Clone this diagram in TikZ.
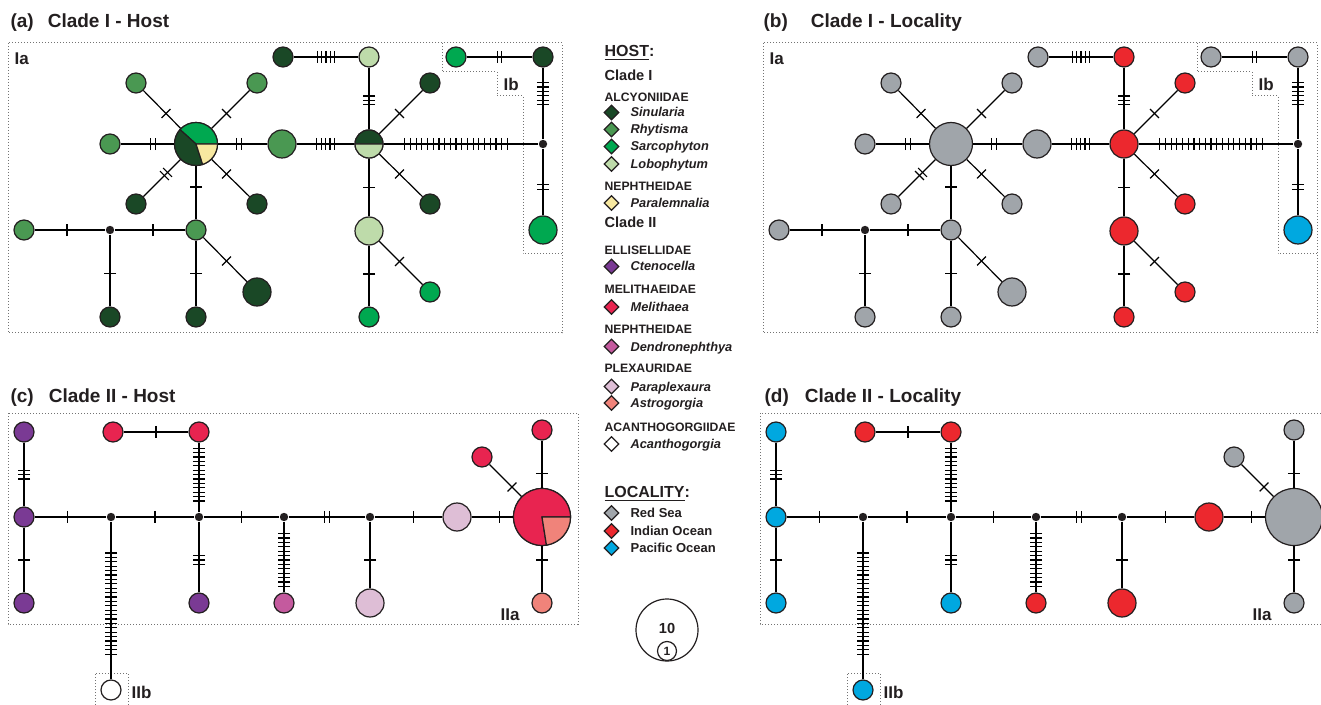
\documentclass[tikz,border=0pt]{standalone}
\usepackage{fontspec}
\setmainfont{Liberation Sans}
\usetikzlibrary{calc,shapes.geometric}
\definecolor{ink}{RGB}{35,31,32}
\definecolor{sin}{RGB}{26,72,38}
\definecolor{rhy}{RGB}{74,152,82}
\definecolor{sar}{RGB}{0,168,80}
\definecolor{lob}{RGB}{190,219,170}
\definecolor{pln}{RGB}{247,232,160}
\definecolor{cte}{RGB}{122,58,148}
\definecolor{mel}{RGB}{232,36,80}
\definecolor{den}{RGB}{196,90,158}
\definecolor{ppx}{RGB}{222,190,214}
\definecolor{ast}{RGB}{240,131,122}
\definecolor{rsea}{RGB}{160,165,170}
\definecolor{ioce}{RGB}{236,40,46}
\definecolor{poce}{RGB}{0,168,224}
\tikzset{every picture/.style={line width=0.6pt}}
\tikzset{
  hap/.style={circle, draw=ink, inner sep=0pt, minimum size=10pt},
  md/.style={hap, minimum size=14pt},
  lg/.style={hap, minimum size=21.5pt},
  xl/.style={hap, minimum size=28.5pt},
  mv/.style={circle, fill=ink, inner sep=0pt, minimum size=4.2pt},
  box/.style={draw=black!55, dash pattern=on 0.5pt off 1pt, line width=0.5pt},
  ttl/.style={inner sep=0pt, text=ink, font=\fontsize{9.5}{11}\selectfont\bfseries},
  lab/.style={inner sep=0pt, text=ink, font=\fontsize{8.5}{10}\selectfont\bfseries},
  hd/.style={inner sep=0pt, text=ink, font=\fontsize{8}{10}\selectfont\bfseries},
  cl/.style={inner sep=0pt, text=ink, font=\fontsize{7.3}{9}\selectfont\bfseries},
  fam/.style={inner sep=0pt, text=ink, font=\fontsize{6.1}{7}\selectfont\bfseries},
  spc/.style={inner sep=0pt, text=ink, font=\fontsize{6.4}{8}\selectfont\bfseries\itshape},
  loc/.style={inner sep=0pt, text=ink, font=\fontsize{6.5}{8}\selectfont\bfseries},
  dia/.style={diamond, draw=ink, inner sep=0pt, minimum size=7.5pt},
}
% spacing of mutation ticks (pt)
\newcommand{\tsp}{2.2}
% edge from #2 to #3 with #4 mutation ticks centred at fraction #1
\newcommand{\mut}[4][0.5]{%
  \draw (#2) -- (#3);
  \foreach \k in {1,...,#4}{%
    \pgfmathsetmacro{\off}{(\k-(#4+1)/2)*\tsp}%
    \coordinate (tk) at ($(#2)!#1!(#3)!\off pt!(#3)$);
    \draw ($(tk)!3.1pt!90:(#3)$) -- ($(tk)!3.1pt!-90:(#3)$);
  }%
}
\newcommand{\pieslice}[5]{\filldraw[fill=#1, draw=ink] (#2.center) -- ++(#3:#5) arc[start angle=#3, end angle=#4, radius=#5] -- cycle;}

\begin{document}
\begin{tikzpicture}[x=0.5pt,y=-0.5pt]
\useasboundingbox (0,0) rectangle (1321,705);

% ---------------- (a) Clade I - Host
\node[ttl, anchor=base west] (ta) at (10,27.5) {(a)\hspace{7pt}Clade I - Host};
\draw[box] (8,43) rectangle (562,333);
\draw[box] (442,43) -- (442,72) -- (497,72) -- (497,96) -- (523,96) -- (523,254) -- (562,254);
\node[lab, anchor=base west] (aIa) at (14,64.5) {Ia};
\node[lab, anchor=base west] (aIb) at (503,90.5) {Ib};

\node[lg] (aC1) at (196,144) {};
\pieslice{sar}{aC1}{0}{138}{10.75pt}
\pieslice{sin}{aC1}{138}{288}{10.75pt}
\pieslice{pln}{aC1}{288}{360}{10.75pt}
\node[hap, fill=rhy] (aTL) at (136,83) {};
\node[hap, fill=rhy] (aTR) at (257,83) {};
\node[hap, fill=rhy] (aL) at (110,144) {};
\node[md, fill=rhy] (aR) at (282,144) {};
\node[hap, fill=sin] (aBL) at (136,204) {};
\node[hap, fill=sin] (aBR) at (257,204) {};
\node[hap, fill=rhy] (aD) at (196,230) {};
\node[mv] (aM1) at (110,230) {};
\node[hap, fill=rhy] (aFL) at (24,230) {};
\node[hap, fill=sin] (aB1) at (110,317) {};
\node[hap, fill=sin] (aB2) at (196,317) {};
\node[md, fill=sin] (aB3) at (257,292) {};
\node[hap, fill=sin] (aT1) at (283,57) {};
\node[hap, fill=lob] (aT2) at (369,57) {};
\node[md] (aC2) at (369,144) {};
\pieslice{sin}{aC2}{0}{180}{7pt}
\pieslice{lob}{aC2}{180}{360}{7pt}
\node[hap, fill=sin] (aUR) at (430,83) {};
\node[hap, fill=sin] (aLR) at (430,204) {};
\node[md, fill=lob] (aE) at (369,231) {};
\node[hap, fill=sar] (aE1) at (430,292) {};
\node[hap, fill=sar] (aE2) at (369,317) {};
\node[mv] (aM2) at (543,144) {};
\node[hap, fill=sin] (aI1) at (543,57) {};
\node[hap, fill=sar] (aI0) at (456,57) {};
\node[md, fill=sar] (aI2) at (543,230) {};

\mut{aC1}{aTL}{1} \mut{aC1}{aTR}{1} \mut{aC1}{aL}{2} \mut{aC1}{aR}{2}
\mut{aC1}{aBL}{2} \mut{aC1}{aBR}{1} \mut{aC1}{aD}{1}
\mut{aD}{aM1}{1} \mut{aM1}{aFL}{1} \mut{aM1}{aB1}{1} \mut{aD}{aB2}{1} \mut{aD}{aB3}{1}
\draw[line width=1.2pt] (aFL.east) -- +(6pt,0);
\mut{aT1}{aT2}{5} \mut{aT2}{aC2}{3} \mut{aR}{aC2}{5}
\mut{aC2}{aUR}{1} \mut{aC2}{aLR}{1} \mut{aC2}{aE}{1} \mut{aE}{aE1}{1} \mut{aE}{aE2}{1}
{\renewcommand{\tsp}{2.85}\mut{aC2}{aM2}{19}}
\mut[0.58]{aM2}{aI1}{6} \mut{aM2}{aI2}{2} \mut{aI0}{aI1}{2}

% ---------------- (b) Clade I - Locality
\begin{scope}[xshift=377.5pt]
\node[ttl, anchor=base west] (tb) at (8,27.5) {(b)\hspace{11.5pt}Clade I - Locality};
\draw[box] (8,43) rectangle (562,333);
\draw[box] (442,43) -- (442,72) -- (497,72) -- (497,96) -- (523,96) -- (523,254) -- (562,254);
\node[lab, anchor=base west] (bIa) at (14,64.5) {Ia};
\node[lab, anchor=base west] (bIb) at (503,90.5) {Ib};

\node[lg, fill=rsea] (bC1) at (196,144) {};
\node[hap, fill=rsea] (bTL) at (136,83) {};
\node[hap, fill=rsea] (bTR) at (257,83) {};
\node[hap, fill=rsea] (bL) at (110,144) {};
\node[md, fill=rsea] (bR) at (282,144) {};
\node[hap, fill=rsea] (bBL) at (136,204) {};
\node[hap, fill=rsea] (bBR) at (257,204) {};
\node[hap, fill=rsea] (bD) at (196,230) {};
\node[mv] (bM1) at (110,230) {};
\node[hap, fill=rsea] (bFL) at (24,230) {};
\node[hap, fill=rsea] (bB1) at (110,317) {};
\node[hap, fill=rsea] (bB2) at (196,317) {};
\node[md, fill=rsea] (bB3) at (257,292) {};
\node[hap, fill=rsea] (bT1) at (283,57) {};
\node[hap, fill=ioce] (bT2) at (369,57) {};
\node[md, fill=ioce] (bC2) at (369,144) {};
\node[hap, fill=ioce] (bUR) at (430,83) {};
\node[hap, fill=ioce] (bLR) at (430,204) {};
\node[md, fill=ioce] (bE) at (369,231) {};
\node[hap, fill=ioce] (bE1) at (430,292) {};
\node[hap, fill=ioce] (bE2) at (369,317) {};
\node[mv] (bM2) at (543,144) {};
\node[hap, fill=rsea] (bI1) at (543,57) {};
\node[hap, fill=rsea] (bI0) at (456,57) {};
\node[md, fill=poce] (bI2) at (543,230) {};

\mut{bC1}{bTL}{1} \mut{bC1}{bTR}{1} \mut{bC1}{bL}{2} \mut{bC1}{bR}{2}
\mut{bC1}{bBL}{2} \mut{bC1}{bBR}{1} \mut{bC1}{bD}{1}
\mut{bD}{bM1}{1} \mut{bM1}{bFL}{1} \mut{bM1}{bB1}{1} \mut{bD}{bB2}{1} \mut{bD}{bB3}{1}
\draw[line width=1.2pt] (bFL.east) -- +(6pt,0);
\mut{bT1}{bT2}{5} \mut{bT2}{bC2}{3} \mut{bR}{bC2}{5}
\mut{bC2}{bUR}{1} \mut{bC2}{bLR}{1} \mut{bC2}{bE}{1} \mut{bE}{bE1}{1} \mut{bE}{bE2}{1}
{\renewcommand{\tsp}{2.85}\mut{bC2}{bM2}{19}}
\mut[0.58]{bM2}{bI1}{6} \mut{bM2}{bI2}{2} \mut{bI0}{bI1}{2}
\end{scope}

% ---------------- (c) Clade II - Host
\node[ttl, anchor=base west] (tc) at (10,402) {(c)\hspace{7.5pt}Clade II - Host};
\draw[box] (8,413) rectangle (578,624);
\draw[box] (95,708) -- (95,673) -- (128,673) -- (128,708);
\node[lab, anchor=base west] (cIIa) at (500,620) {IIa};
\node[lab, anchor=base west] (cIIb) at (131,698) {IIb};

\node[hap, fill=cte] (cP1) at (24,517) {};
\node[hap, fill=cte] (cP0) at (24,432) {};
\node[hap, fill=cte] (cP2) at (24,603) {};
\node[mv] (cM1) at (111,517) {};
\node[hap, fill=white] (cLb) at (111,690) {};
\node[mv] (cM2) at (199,517) {};
\node[hap, fill=mel] (cU1) at (199,432) {};
\node[hap, fill=mel] (cU0) at (113,432) {};
\node[hap, fill=cte] (cB2) at (199,603) {};
\node[mv] (cM3) at (284,517) {};
\node[hap, fill=den] (cB3) at (284,603) {};
\node[mv] (cM4) at (370,517) {};
\node[md, fill=ppx] (cB4) at (370,603) {};
\node[md, fill=ppx] (cR1) at (457,517) {};
\node[xl] (cBig) at (542,517) {};
\pieslice{mel}{cBig}{0}{279}{14.25pt}
\pieslice{ast}{cBig}{279}{360}{14.25pt}
\node[hap, fill=mel] (cT) at (542,430) {};
\node[hap, fill=mel] (cTL) at (482,457) {};
\node[hap, fill=ast] (cBt) at (542,603) {};

\mut{cP0}{cP1}{3} \mut{cP1}{cP2}{1} \mut{cP1}{cM1}{1} \mut{cM1}{cLb}{24}
\mut{cM1}{cM2}{1} \mut{cM2}{cU1}{13} \mut{cU0}{cU1}{1} \mut{cM2}{cB2}{3}
\mut{cM2}{cM3}{1} \mut{cM3}{cB3}{13} \mut{cM3}{cM4}{2} \mut{cM4}{cB4}{1}
\mut{cM4}{cR1}{1} \mut{cR1}{cBig}{1} \mut{cBig}{cT}{1} \mut{cBig}{cTL}{1} \mut{cBig}{cBt}{1}

% ---------------- (d) Clade II - Locality
\begin{scope}[xshift=376pt]
\node[ttl, anchor=base west] (td) at (12,402) {(d)\hspace{8pt}Clade II - Locality};
\draw[box] (8,413) rectangle (580,624);
\draw[box] (95,708) -- (95,673) -- (128,673) -- (128,708);
\node[lab, anchor=base west] (dIIa) at (500,620) {IIa};
\node[lab, anchor=base west] (dIIb) at (131,698) {IIb};

\node[hap, fill=poce] (dP1) at (24,517) {};
\node[hap, fill=poce] (dP0) at (24,432) {};
\node[hap, fill=poce] (dP2) at (24,603) {};
\node[mv] (dM1) at (111,517) {};
\node[hap, fill=poce] (dLb) at (111,690) {};
\node[mv] (dM2) at (199,517) {};
\node[hap, fill=ioce] (dU1) at (199,432) {};
\node[hap, fill=ioce] (dU0) at (113,432) {};
\node[hap, fill=poce] (dB2) at (199,603) {};
\node[mv] (dM3) at (284,517) {};
\node[hap, fill=ioce] (dB3) at (284,603) {};
\node[mv] (dM4) at (370,517) {};
\node[md, fill=ioce] (dB4) at (370,603) {};
\node[md, fill=ioce] (dR1) at (457,517) {};
\node[xl, fill=rsea] (dBig) at (542,517) {};
\node[hap, fill=rsea] (dT) at (542,430) {};
\node[hap, fill=rsea] (dTL) at (482,457) {};
\node[hap, fill=rsea] (dBt) at (542,603) {};

\mut{dP0}{dP1}{3} \mut{dP1}{dP2}{1} \mut{dP1}{dM1}{1} \mut{dM1}{dLb}{24}
\mut{dM1}{dM2}{1} \mut{dM2}{dU1}{13} \mut{dU0}{dU1}{1} \mut{dM2}{dB2}{3}
\mut{dM2}{dM3}{1} \mut{dM3}{dB3}{13} \mut{dM3}{dM4}{2} \mut{dM4}{dB4}{1}
\mut{dM4}{dR1}{1} \mut{dR1}{dBig}{1} \mut{dBig}{dT}{1} \mut{dBig}{dTL}{1} \mut{dBig}{dBt}{1}
\end{scope}

% ---------------- legend
\node[hd, anchor=base west] (kHost) at (604,56.5) {\underline{HOST}:};
\node[cl, anchor=base west] (kCl1) at (604,81) {Clade I};
\node[fam, anchor=base west] (kAlc) at (604,101.5) {ALCYONIIDAE};
\node[dia, fill=sin] (dSin) at (611.5,112.5) {};
\node[spc, anchor=base west] (kSin) at (630,117) {Sinularia};
\node[dia, fill=rhy] (dRhy) at (611.5,129.5) {};
\node[spc, anchor=base west] (kRhy) at (630,134) {Rhytisma};
\node[dia, fill=sar] (dSar) at (611.5,146.5) {};
\node[spc, anchor=base west] (kSar) at (630,151) {Sarcophyton};
\node[dia, fill=lob] (dLob) at (611.5,164) {};
\node[spc, anchor=base west] (kLob) at (630,168.5) {Lobophytum};
\node[fam, anchor=base west] (kNep1) at (604,190.5) {NEPHTHEIDAE};
\node[dia, fill=pln] (dPln) at (611.5,203) {};
\node[spc, anchor=base west] (kPln) at (630,207.5) {Paralemnalia};
\node[cl, anchor=base west] (kCl2) at (604,228) {Clade II};
\node[fam, anchor=base west] (kEll) at (604,254.5) {ELLISELLIDAE};
\node[dia, fill=cte] (dCte) at (611.5,266.5) {};
\node[spc, anchor=base west] (kCte) at (630,271) {Ctenocella};
\node[fam, anchor=base west] (kMlt) at (604,293.5) {MELITHAEIDAE};
\node[dia, fill=mel] (dMel) at (611.5,307) {};
\node[spc, anchor=base west] (kMel) at (630,311.5) {Melithaea};
\node[fam, anchor=base west] (kNep2) at (604,333.5) {NEPHTHEIDAE};
\node[dia, fill=den] (dDen) at (611.5,346.5) {};
\node[spc, anchor=base west] (kDen) at (630,351) {Dendronephthya};
\node[fam, anchor=base west] (kPlx) at (604,372.5) {PLEXAURIDAE};
\node[dia, fill=ppx] (dPpx) at (611.5,386.5) {};
\node[spc, anchor=base west] (kPpx) at (630,391) {Paraplexaura};
\node[dia, fill=ast] (dAst) at (611.5,403) {};
\node[spc, anchor=base west] (kAst) at (630,407.5) {Astrogorgia};
\node[fam, anchor=base west] (kAca) at (604,431.5) {ACANTHOGORGIIDAE};
\node[dia, fill=white] (dAca) at (611.5,444) {};
\node[spc, anchor=base west] (kAca2) at (630,448.5) {Acanthogorgia};
\node[hd, anchor=base west] (kLoc) at (604,497.5) {\underline{LOCALITY}:};
\node[dia, fill=rsea] (dRs) at (611.5,513) {};
\node[loc, anchor=base west] (kRs) at (630,517.5) {Red Sea};
\node[dia, fill=ioce] (dIo) at (611.5,531) {};
\node[loc, anchor=base west] (kIo) at (630,535.5) {Indian Ocean};
\node[dia, fill=poce] (dPo) at (611.5,548) {};
\node[loc, anchor=base west] (kPo) at (630,552.5) {Pacific Ocean};

% size scale
\node[hap, minimum size=31pt] (s10) at (667,630) {};
\node[hap, minimum size=9.5pt, font=\fontsize{6}{7}\selectfont\bfseries, text=ink] (s1) at (667,651) {1};
\node[inner sep=0pt, text=ink, font=\fontsize{7.3}{9}\selectfont\bfseries] (s10t) at (667,628) {10};
\end{tikzpicture}
\end{document}
